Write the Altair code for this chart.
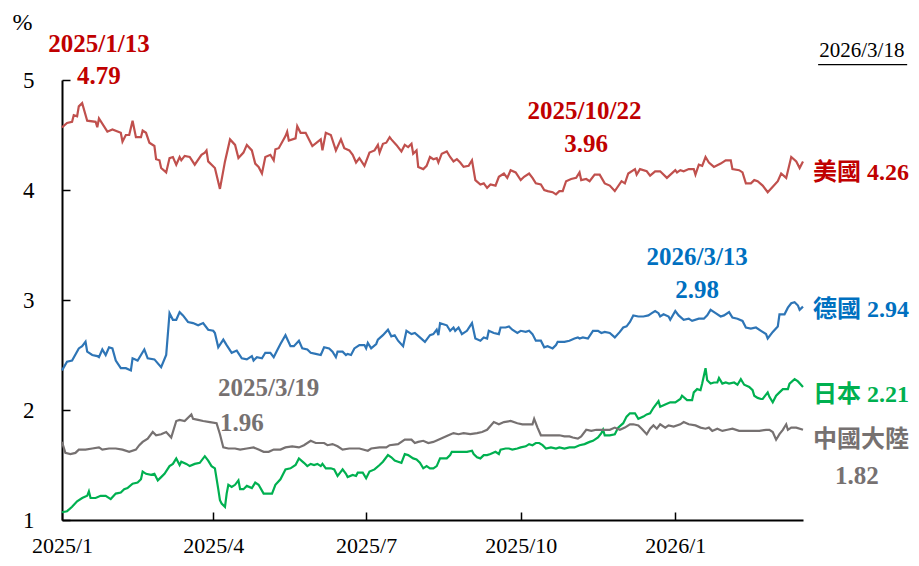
import altair as alt
import pandas as pd

# ---------------- data (10-year government bond yields, %) ----------------
US_POINTS = [
    ("2025-01-01", 4.57), ("2025-01-04", 4.61), ("2025-01-07", 4.62), ("2025-01-08", 4.68),
    ("2025-01-10", 4.67), ("2025-01-11", 4.76), ("2025-01-13", 4.79), ("2025-01-16", 4.63),
    ("2025-01-21", 4.62), ("2025-01-22", 4.57), ("2025-01-23", 4.65), ("2025-01-28", 4.53),
    ("2025-01-31", 4.55), ("2025-02-05", 4.52), ("2025-02-06", 4.44), ("2025-02-08", 4.50),
    ("2025-02-10", 4.50), ("2025-02-12", 4.63), ("2025-02-14", 4.48), ("2025-02-17", 4.48),
    ("2025-02-18", 4.54), ("2025-02-20", 4.52), ("2025-02-22", 4.43), ("2025-02-25", 4.40),
    ("2025-02-26", 4.28), ("2025-02-28", 4.27), ("2025-03-01", 4.20), ("2025-03-04", 4.16),
    ("2025-03-06", 4.29), ("2025-03-08", 4.30), ("2025-03-10", 4.23), ("2025-03-12", 4.30),
    ("2025-03-13", 4.27), ("2025-03-15", 4.31), ("2025-03-18", 4.30), ("2025-03-21", 4.23),
    ("2025-03-25", 4.32), ("2025-03-27", 4.34), ("2025-03-28", 4.36), ("2025-03-29", 4.26),
    ("2025-04-02", 4.20), ("2025-04-05", 4.01), ("2025-04-08", 4.26), ("2025-04-11", 4.46),
    ("2025-04-14", 4.41), ("2025-04-16", 4.29), ("2025-04-19", 4.34), ("2025-04-21", 4.41),
    ("2025-04-24", 4.36), ("2025-04-26", 4.24), ("2025-04-28", 4.21), ("2025-04-30", 4.15),
    ("2025-05-02", 4.30), ("2025-05-05", 4.32), ("2025-05-07", 4.27), ("2025-05-08", 4.37),
    ("2025-05-10", 4.38), ("2025-05-14", 4.49), ("2025-05-15", 4.53), ("2025-05-16", 4.45),
    ("2025-05-20", 4.47), ("2025-05-21", 4.58), ("2025-05-23", 4.52), ("2025-05-26", 4.52),
    ("2025-05-28", 4.46), ("2025-05-30", 4.40), ("2025-06-04", 4.46), ("2025-06-05", 4.36),
    ("2025-06-07", 4.52), ("2025-06-10", 4.50), ("2025-06-13", 4.36), ("2025-06-16", 4.46),
    ("2025-06-18", 4.38), ("2025-06-21", 4.36), ("2025-06-23", 4.32), ("2025-06-25", 4.25),
    ("2025-06-27", 4.29), ("2025-06-30", 4.22), ("2025-07-03", 4.34), ("2025-07-06", 4.36),
    ("2025-07-08", 4.41), ("2025-07-09", 4.34), ("2025-07-11", 4.42), ("2025-07-13", 4.43),
    ("2025-07-15", 4.48), ("2025-07-16", 4.46), ("2025-07-19", 4.41), ("2025-07-22", 4.35),
    ("2025-07-24", 4.41), ("2025-07-26", 4.39), ("2025-07-28", 4.42), ("2025-07-29", 4.33),
    ("2025-07-31", 4.36), ("2025-08-01", 4.21), ("2025-08-04", 4.19), ("2025-08-06", 4.22),
    ("2025-08-08", 4.30), ("2025-08-10", 4.28), ("2025-08-12", 4.29), ("2025-08-13", 4.25),
    ("2025-08-15", 4.33), ("2025-08-18", 4.35), ("2025-08-20", 4.30), ("2025-08-22", 4.26),
    ("2025-08-24", 4.28), ("2025-08-26", 4.25), ("2025-08-28", 4.21), ("2025-08-31", 4.22),
    ("2025-09-02", 4.27), ("2025-09-04", 4.09), ("2025-09-07", 4.05), ("2025-09-09", 4.06),
    ("2025-09-11", 4.02), ("2025-09-13", 4.05), ("2025-09-16", 4.04), ("2025-09-18", 4.12),
    ("2025-09-21", 4.15), ("2025-09-23", 4.11), ("2025-09-25", 4.18), ("2025-09-28", 4.16),
    ("2025-10-01", 4.09), ("2025-10-03", 4.12), ("2025-10-06", 4.15), ("2025-10-08", 4.11),
    ("2025-10-10", 4.06), ("2025-10-13", 4.05), ("2025-10-15", 4.00), ("2025-10-17", 3.99),
    ("2025-10-20", 3.98), ("2025-10-22", 3.96), ("2025-10-24", 3.99), ("2025-10-26", 3.99),
    ("2025-10-28", 4.08), ("2025-10-31", 4.10), ("2025-11-03", 4.11), ("2025-11-05", 4.16),
    ("2025-11-06", 4.09), ("2025-11-09", 4.10), ("2025-11-11", 4.08), ("2025-11-14", 4.14),
    ("2025-11-17", 4.14), ("2025-11-20", 4.06), ("2025-11-23", 4.04), ("2025-11-26", 3.99),
    ("2025-11-30", 4.08), ("2025-12-02", 4.06), ("2025-12-04", 4.15), ("2025-12-08", 4.19),
    ("2025-12-09", 4.14), ("2025-12-11", 4.19), ("2025-12-15", 4.17), ("2025-12-17", 4.13),
    ("2025-12-20", 4.17), ("2025-12-23", 4.17), ("2025-12-27", 4.11), ("2026-01-01", 4.18),
    ("2026-01-02", 4.16), ("2026-01-04", 4.18), ("2026-01-06", 4.17), ("2026-01-09", 4.19),
    ("2026-01-12", 4.19), ("2026-01-13", 4.14), ("2026-01-15", 4.23), ("2026-01-17", 4.22),
    ("2026-01-19", 4.30), ("2026-01-21", 4.25), ("2026-01-24", 4.21), ("2026-01-28", 4.24),
    ("2026-01-31", 4.27), ("2026-02-03", 4.27), ("2026-02-04", 4.19), ("2026-02-08", 4.18),
    ("2026-02-10", 4.16), ("2026-02-12", 4.06), ("2026-02-15", 4.06), ("2026-02-17", 4.09),
    ("2026-02-19", 4.08), ("2026-02-22", 4.04), ("2026-02-25", 3.98), ("2026-02-28", 4.03),
    ("2026-03-03", 4.08), ("2026-03-05", 4.15), ("2026-03-08", 4.11), ("2026-03-11", 4.30),
    ("2026-03-14", 4.26), ("2026-03-16", 4.20), ("2026-03-18", 4.26),
]

DE_POINTS = [
    ("2025-01-01", 2.36), ("2025-01-04", 2.44), ("2025-01-07", 2.45), ("2025-01-11", 2.56),
    ("2025-01-13", 2.58), ("2025-01-15", 2.62), ("2025-01-16", 2.53), ("2025-01-19", 2.50),
    ("2025-01-22", 2.49), ("2025-01-23", 2.48), ("2025-01-25", 2.55), ("2025-01-27", 2.50),
    ("2025-01-29", 2.57), ("2025-01-31", 2.56), ("2025-02-02", 2.45), ("2025-02-05", 2.38),
    ("2025-02-08", 2.38), ("2025-02-11", 2.36), ("2025-02-12", 2.47), ("2025-02-15", 2.45),
    ("2025-02-17", 2.50), ("2025-02-19", 2.55), ("2025-02-21", 2.47), ("2025-02-25", 2.46),
    ("2025-03-01", 2.39), ("2025-03-04", 2.50), ("2025-03-06", 2.88), ("2025-03-08", 2.82),
    ("2025-03-10", 2.82), ("2025-03-12", 2.89), ("2025-03-14", 2.86), ("2025-03-17", 2.80),
    ("2025-03-20", 2.79), ("2025-03-23", 2.77), ("2025-03-26", 2.79), ("2025-03-29", 2.73),
    ("2025-04-01", 2.72), ("2025-04-02", 2.70), ("2025-04-04", 2.57), ("2025-04-07", 2.64),
    ("2025-04-09", 2.59), ("2025-04-12", 2.52), ("2025-04-15", 2.54), ("2025-04-18", 2.47),
    ("2025-04-21", 2.46), ("2025-04-24", 2.49), ("2025-04-25", 2.45), ("2025-04-27", 2.48),
    ("2025-04-30", 2.47), ("2025-05-02", 2.52), ("2025-05-05", 2.52), ("2025-05-07", 2.48),
    ("2025-05-09", 2.54), ("2025-05-11", 2.60), ("2025-05-14", 2.68), ("2025-05-17", 2.58),
    ("2025-05-19", 2.58), ("2025-05-22", 2.63), ("2025-05-24", 2.56), ("2025-05-27", 2.55),
    ("2025-05-29", 2.52), ("2025-06-01", 2.51), ("2025-06-04", 2.50), ("2025-06-06", 2.57),
    ("2025-06-09", 2.56), ("2025-06-11", 2.53), ("2025-06-13", 2.48), ("2025-06-14", 2.53),
    ("2025-06-17", 2.53), ("2025-06-19", 2.50), ("2025-06-20", 2.51), ("2025-06-22", 2.50),
    ("2025-06-24", 2.56), ("2025-06-27", 2.59), ("2025-06-30", 2.59), ("2025-07-01", 2.56),
    ("2025-07-02", 2.61), ("2025-07-04", 2.56), ("2025-07-07", 2.60), ("2025-07-08", 2.64),
    ("2025-07-11", 2.68), ("2025-07-14", 2.73), ("2025-07-16", 2.67), ("2025-07-18", 2.68),
    ("2025-07-20", 2.63), ("2025-07-23", 2.58), ("2025-07-25", 2.72), ("2025-07-28", 2.69),
    ("2025-07-30", 2.70), ("2025-08-02", 2.66), ("2025-08-05", 2.62), ("2025-08-08", 2.68),
    ("2025-08-10", 2.69), ("2025-08-12", 2.73), ("2025-08-13", 2.68), ("2025-08-14", 2.79),
    ("2025-08-18", 2.77), ("2025-08-20", 2.72), ("2025-08-22", 2.75), ("2025-08-23", 2.72),
    ("2025-08-25", 2.75), ("2025-08-27", 2.69), ("2025-08-30", 2.72), ("2025-09-02", 2.79),
    ("2025-09-04", 2.65), ("2025-09-07", 2.63), ("2025-09-09", 2.66), ("2025-09-11", 2.65),
    ("2025-09-12", 2.72), ("2025-09-15", 2.70), ("2025-09-18", 2.69), ("2025-09-19", 2.75),
    ("2025-09-22", 2.75), ("2025-09-24", 2.76), ("2025-09-26", 2.73), ("2025-09-29", 2.70),
    ("2025-10-01", 2.72), ("2025-10-04", 2.71), ("2025-10-06", 2.72), ("2025-10-08", 2.69),
    ("2025-10-10", 2.63), ("2025-10-13", 2.63), ("2025-10-15", 2.57), ("2025-10-17", 2.58),
    ("2025-10-20", 2.56), ("2025-10-22", 2.59), ("2025-10-23", 2.62), ("2025-10-27", 2.62),
    ("2025-10-30", 2.63), ("2025-11-02", 2.65), ("2025-11-04", 2.66), ("2025-11-05", 2.65),
    ("2025-11-07", 2.66), ("2025-11-10", 2.65), ("2025-11-13", 2.72), ("2025-11-16", 2.72),
    ("2025-11-18", 2.70), ("2025-11-20", 2.71), ("2025-11-23", 2.70), ("2025-11-26", 2.66),
    ("2025-11-29", 2.71), ("2025-12-01", 2.75), ("2025-12-03", 2.76), ("2025-12-05", 2.80),
    ("2025-12-07", 2.86), ("2025-12-10", 2.85), ("2025-12-13", 2.85), ("2025-12-16", 2.86),
    ("2025-12-18", 2.88), ("2025-12-20", 2.90), ("2025-12-22", 2.88), ("2025-12-23", 2.85),
    ("2025-12-25", 2.87), ("2025-12-28", 2.85), ("2025-12-29", 2.82), ("2026-01-01", 2.90),
    ("2026-01-03", 2.86), ("2026-01-06", 2.82), ("2026-01-09", 2.83), ("2026-01-11", 2.81),
    ("2026-01-15", 2.83), ("2026-01-18", 2.83), ("2026-01-20", 2.86), ("2026-01-22", 2.91),
    ("2026-01-25", 2.88), ("2026-01-28", 2.85), ("2026-01-30", 2.86), ("2026-02-02", 2.89),
    ("2026-02-04", 2.84), ("2026-02-07", 2.83), ("2026-02-10", 2.81), ("2026-02-12", 2.75),
    ("2026-02-15", 2.74), ("2026-02-18", 2.75), ("2026-02-21", 2.72), ("2026-02-24", 2.69),
    ("2026-02-25", 2.65), ("2026-02-28", 2.71), ("2026-03-03", 2.76), ("2026-03-04", 2.87),
    ("2026-03-07", 2.87), ("2026-03-09", 2.93), ("2026-03-11", 2.97), ("2026-03-13", 2.98),
    ("2026-03-15", 2.95), ("2026-03-16", 2.91), ("2026-03-18", 2.94),
]

JP_POINTS = [
    ("2025-01-01", 1.07), ("2025-01-04", 1.08), ("2025-01-07", 1.12), ("2025-01-10", 1.17),
    ("2025-01-13", 1.20), ("2025-01-16", 1.22), ("2025-01-17", 1.26), ("2025-01-18", 1.20),
    ("2025-01-21", 1.20), ("2025-01-24", 1.22), ("2025-01-27", 1.22), ("2025-01-30", 1.19),
    ("2025-02-02", 1.24), ("2025-02-05", 1.25), ("2025-02-07", 1.28), ("2025-02-09", 1.29),
    ("2025-02-12", 1.33), ("2025-02-15", 1.34), ("2025-02-17", 1.37), ("2025-02-18", 1.44),
    ("2025-02-20", 1.42), ("2025-02-23", 1.41), ("2025-02-25", 1.42), ("2025-02-27", 1.36),
    ("2025-03-01", 1.39), ("2025-03-03", 1.42), ("2025-03-06", 1.49), ("2025-03-08", 1.51),
    ("2025-03-10", 1.56), ("2025-03-12", 1.50), ("2025-03-13", 1.53), ("2025-03-16", 1.51),
    ("2025-03-18", 1.49), ("2025-03-21", 1.51), ("2025-03-24", 1.52), ("2025-03-27", 1.58),
    ("2025-03-29", 1.54), ("2025-03-31", 1.49), ("2025-04-02", 1.47), ("2025-04-04", 1.28),
    ("2025-04-05", 1.18), ("2025-04-06", 1.15), ("2025-04-08", 1.12), ("2025-04-09", 1.24),
    ("2025-04-10", 1.32), ("2025-04-12", 1.30), ("2025-04-14", 1.32), ("2025-04-16", 1.36),
    ("2025-04-17", 1.28), ("2025-04-19", 1.28), ("2025-04-21", 1.31), ("2025-04-24", 1.29),
    ("2025-04-26", 1.34), ("2025-04-28", 1.32), ("2025-05-01", 1.24), ("2025-05-06", 1.24),
    ("2025-05-08", 1.32), ("2025-05-11", 1.37), ("2025-05-14", 1.46), ("2025-05-17", 1.47),
    ("2025-05-20", 1.50), ("2025-05-22", 1.56), ("2025-05-25", 1.52), ("2025-05-27", 1.49),
    ("2025-05-29", 1.51), ("2025-05-31", 1.50), ("2025-06-02", 1.51), ("2025-06-04", 1.49),
    ("2025-06-05", 1.51), ("2025-06-07", 1.47), ("2025-06-10", 1.47), ("2025-06-12", 1.46),
    ("2025-06-14", 1.40), ("2025-06-16", 1.44), ("2025-06-17", 1.46), ("2025-06-19", 1.42),
    ("2025-06-20", 1.39), ("2025-06-23", 1.41), ("2025-06-25", 1.40), ("2025-06-26", 1.43),
    ("2025-06-29", 1.43), ("2025-07-01", 1.38), ("2025-07-03", 1.44), ("2025-07-06", 1.46),
    ("2025-07-09", 1.50), ("2025-07-11", 1.53), ("2025-07-14", 1.59), ("2025-07-16", 1.57),
    ("2025-07-18", 1.54), ("2025-07-20", 1.53), ("2025-07-22", 1.52), ("2025-07-24", 1.60),
    ("2025-07-26", 1.59), ("2025-07-29", 1.56), ("2025-07-31", 1.55), ("2025-08-02", 1.52),
    ("2025-08-04", 1.47), ("2025-08-06", 1.49), ("2025-08-08", 1.47), ("2025-08-10", 1.47),
    ("2025-08-12", 1.49), ("2025-08-14", 1.56), ("2025-08-18", 1.56), ("2025-08-20", 1.59),
    ("2025-08-21", 1.62), ("2025-08-26", 1.62), ("2025-08-30", 1.62), ("2025-09-02", 1.63),
    ("2025-09-03", 1.60), ("2025-09-05", 1.57), ("2025-09-07", 1.56), ("2025-09-09", 1.59),
    ("2025-09-11", 1.59), ("2025-09-13", 1.60), ("2025-09-16", 1.62), ("2025-09-18", 1.60),
    ("2025-09-19", 1.64), ("2025-09-22", 1.65), ("2025-09-24", 1.65), ("2025-09-26", 1.64),
    ("2025-09-29", 1.65), ("2025-10-01", 1.66), ("2025-10-04", 1.67), ("2025-10-06", 1.69),
    ("2025-10-08", 1.68), ("2025-10-10", 1.70), ("2025-10-12", 1.70), ("2025-10-14", 1.68),
    ("2025-10-16", 1.65), ("2025-10-19", 1.66), ("2025-10-22", 1.65), ("2025-10-24", 1.66),
    ("2025-10-27", 1.65), ("2025-10-30", 1.66), ("2025-11-02", 1.66), ("2025-11-05", 1.68),
    ("2025-11-08", 1.69), ("2025-11-11", 1.71), ("2025-11-13", 1.72), ("2025-11-16", 1.75),
    ("2025-11-18", 1.79), ("2025-11-19", 1.82), ("2025-11-20", 1.77), ("2025-11-23", 1.77),
    ("2025-11-26", 1.78), ("2025-11-28", 1.84), ("2025-12-01", 1.88), ("2025-12-03", 1.94),
    ("2025-12-05", 1.97), ("2025-12-08", 1.97), ("2025-12-10", 1.92), ("2025-12-13", 1.94),
    ("2025-12-15", 1.96), ("2025-12-17", 1.97), ("2025-12-19", 2.02), ("2025-12-21", 2.06),
    ("2025-12-22", 2.08), ("2025-12-23", 2.03), ("2025-12-26", 2.05), ("2025-12-29", 2.07),
    ("2026-01-01", 2.07), ("2026-01-04", 2.10), ("2026-01-05", 2.13), ("2026-01-08", 2.09),
    ("2026-01-11", 2.09), ("2026-01-12", 2.16), ("2026-01-14", 2.19), ("2026-01-16", 2.18),
    ("2026-01-17", 2.24), ("2026-01-19", 2.38), ("2026-01-20", 2.27), ("2026-01-22", 2.24),
    ("2026-01-24", 2.25), ("2026-01-26", 2.25), ("2026-01-27", 2.29), ("2026-01-29", 2.24),
    ("2026-01-31", 2.25), ("2026-02-02", 2.24), ("2026-02-05", 2.25), ("2026-02-07", 2.23),
    ("2026-02-09", 2.28), ("2026-02-11", 2.23), ("2026-02-14", 2.21), ("2026-02-16", 2.18),
    ("2026-02-17", 2.13), ("2026-02-19", 2.11), ("2026-02-21", 2.10), ("2026-02-22", 2.10),
    ("2026-02-25", 2.16), ("2026-02-26", 2.12), ("2026-02-28", 2.07), ("2026-03-02", 2.13),
    ("2026-03-04", 2.16), ("2026-03-06", 2.19), ("2026-03-09", 2.19), ("2026-03-10", 2.24),
    ("2026-03-13", 2.28), ("2026-03-15", 2.26), ("2026-03-18", 2.21),
]

CN_POINTS = [
    ("2025-01-01", 1.71), ("2025-01-03", 1.61), ("2025-01-06", 1.60), ("2025-01-09", 1.61),
    ("2025-01-11", 1.64), ("2025-01-15", 1.64), ("2025-01-19", 1.65), ("2025-01-23", 1.66),
    ("2025-01-25", 1.64), ("2025-01-29", 1.65), ("2025-02-02", 1.65), ("2025-02-06", 1.64),
    ("2025-02-10", 1.62), ("2025-02-14", 1.64), ("2025-02-16", 1.68), ("2025-02-18", 1.71),
    ("2025-02-21", 1.74), ("2025-02-24", 1.80), ("2025-02-26", 1.77), ("2025-03-01", 1.78),
    ("2025-03-04", 1.80), ("2025-03-07", 1.75), ("2025-03-10", 1.90), ("2025-03-12", 1.91),
    ("2025-03-15", 1.90), ("2025-03-19", 1.96), ("2025-03-20", 1.92), ("2025-03-23", 1.91),
    ("2025-03-26", 1.90), ("2025-03-30", 1.89), ("2025-04-03", 1.88), ("2025-04-05", 1.78),
    ("2025-04-07", 1.66), ("2025-04-10", 1.65), ("2025-04-14", 1.65), ("2025-04-17", 1.64),
    ("2025-04-21", 1.65), ("2025-04-25", 1.66), ("2025-04-28", 1.64), ("2025-05-01", 1.62),
    ("2025-05-04", 1.62), ("2025-05-07", 1.64), ("2025-05-11", 1.64), ("2025-05-14", 1.66),
    ("2025-05-18", 1.67), ("2025-05-22", 1.66), ("2025-05-25", 1.68), ("2025-05-29", 1.72),
    ("2025-06-01", 1.70), ("2025-06-06", 1.70), ("2025-06-08", 1.68), ("2025-06-11", 1.69),
    ("2025-06-14", 1.67), ("2025-06-17", 1.64), ("2025-06-21", 1.65), ("2025-06-27", 1.65),
    ("2025-07-02", 1.63), ("2025-07-04", 1.65), ("2025-07-09", 1.66), ("2025-07-13", 1.66),
    ("2025-07-15", 1.68), ("2025-07-20", 1.69), ("2025-07-24", 1.73), ("2025-07-28", 1.73),
    ("2025-07-30", 1.70), ("2025-08-01", 1.71), ("2025-08-04", 1.72), ("2025-08-07", 1.70),
    ("2025-08-10", 1.71), ("2025-08-13", 1.73), ("2025-08-16", 1.75), ("2025-08-19", 1.77),
    ("2025-08-22", 1.79), ("2025-08-25", 1.78), ("2025-08-28", 1.79), ("2025-09-01", 1.78),
    ("2025-09-05", 1.79), ("2025-09-08", 1.80), ("2025-09-11", 1.82), ("2025-09-15", 1.89),
    ("2025-09-18", 1.87), ("2025-09-21", 1.89), ("2025-09-25", 1.90), ("2025-09-29", 1.88),
    ("2025-10-02", 1.87), ("2025-10-08", 1.87), ("2025-10-09", 1.92), ("2025-10-11", 1.84),
    ("2025-10-13", 1.77), ("2025-10-18", 1.77), ("2025-10-20", 1.77), ("2025-10-24", 1.77),
    ("2025-10-27", 1.76), ("2025-10-30", 1.76), ("2025-11-01", 1.75), ("2025-11-04", 1.74),
    ("2025-11-06", 1.76), ("2025-11-09", 1.82), ("2025-11-12", 1.81), ("2025-11-15", 1.82),
    ("2025-11-19", 1.82), ("2025-11-23", 1.82), ("2025-11-26", 1.84), ("2025-11-29", 1.82),
    ("2025-12-02", 1.84), ("2025-12-05", 1.87), ("2025-12-07", 1.87), ("2025-12-10", 1.86),
    ("2025-12-12", 1.83), ("2025-12-15", 1.78), ("2025-12-17", 1.83), ("2025-12-19", 1.86),
    ("2025-12-21", 1.83), ("2025-12-23", 1.87), ("2025-12-26", 1.84), ("2025-12-28", 1.86),
    ("2025-12-31", 1.85), ("2026-01-04", 1.87), ("2026-01-06", 1.89), ("2026-01-09", 1.87),
    ("2026-01-13", 1.86), ("2026-01-16", 1.84), ("2026-01-19", 1.83), ("2026-01-21", 1.84),
    ("2026-01-23", 1.81), ("2026-01-26", 1.83), ("2026-01-29", 1.81), ("2026-02-01", 1.82),
    ("2026-02-04", 1.83), ("2026-02-08", 1.81), ("2026-02-12", 1.81), ("2026-02-16", 1.81),
    ("2026-02-20", 1.81), ("2026-02-24", 1.82), ("2026-02-26", 1.82), ("2026-02-28", 1.80),
    ("2026-03-02", 1.73), ("2026-03-04", 1.78), ("2026-03-06", 1.82), ("2026-03-08", 1.87),
    ("2026-03-09", 1.82), ("2026-03-11", 1.84), ("2026-03-14", 1.84), ("2026-03-18", 1.82),
]

SERIES = ["美國", "德國", "日本", "中國大陸"]
LINE_COLORS = ["#C0504D", "#2E75B6", "#00B050", "#767171"]
TEXT_COLORS = ["#C00000", "#0070C0", "#00B050", "#767171"]

X_TICKS = ["2025-01-01", "2025-04-01", "2025-07-01", "2025-10-01", "2026-01-01"]
Y_TICKS = [1, 2, 3, 4, 5]
X_DOMAIN = ["2025-01-01", "2026-03-18"]
Y_DOMAIN = [1, 5]

# annotations (label anchor date, value, text, series index)
ANN_TEXT = ["2025/1/13", "4.79", "2025/10/22", "3.96", "2026/3/13", "2.98", "2025/3/19", "1.96"]
ANN_DATE = ["2025-01-23", "2025-01-23", "2025-11-08", "2025-11-09",
            "2026-01-14", "2026-01-14", "2025-05-04", "2025-04-18"]
ANN_VALUE = [5.33, 5.04, 4.72, 4.42, 3.39, 3.09, 2.20, 1.88]
ANN_SERIES = [0, 0, 0, 0, 1, 1, 3, 3]

END_TEXT = ["美國 4.26", "德國 2.94", "日本 2.21", "中國大陸"]
END_DATE = ["2026-03-24", "2026-03-24", "2026-03-24", "2026-03-24"]
END_VALUE = [4.155, 2.91, 2.136, 1.727]
END_SERIES = [0, 1, 2, 3]
CN_LAST_TEXT = "1.82"
CN_LAST_DATE = "2026-04-19"
CN_LAST_VALUE = 1.40

AS_OF_TEXT = "2026/3/18"
AS_OF_DATE = "2026-04-22"
AS_OF_VALUE = 5.265
UNDERLINE = ("2026-03-27", "2026-05-19", 5.14)

# ---------------- build tables ----------------
frames = []
for name, pts in zip(SERIES, [US_POINTS, DE_POINTS, JP_POINTS, CN_POINTS]):
    frames.append(pd.DataFrame(pts, columns=["date", "value"]).assign(series=name))
lines_df = pd.concat(frames, ignore_index=True)

ann_df = pd.DataFrame({
    "date": ANN_DATE, "value": ANN_VALUE, "text": ANN_TEXT,
    "color": [TEXT_COLORS[i] for i in ANN_SERIES],
})
end_df = pd.DataFrame({
    "date": END_DATE, "value": END_VALUE, "text": END_TEXT,
    "color": [TEXT_COLORS[i] for i in END_SERIES],
})
cn_last_df = pd.DataFrame({"date": [CN_LAST_DATE], "value": [CN_LAST_VALUE],
                           "text": [CN_LAST_TEXT], "color": [TEXT_COLORS[3]]})
asof_df = pd.DataFrame({"date": [AS_OF_DATE], "value": [AS_OF_VALUE], "text": [AS_OF_TEXT]})
ul_df = pd.DataFrame({"d1": [UNDERLINE[0]], "d2": [UNDERLINE[1]], "value": [UNDERLINE[2]]})

SERIF = "Liberation Serif, Times New Roman, serif"
MIXED = "Liberation Serif, Noto Sans CJK TC, serif"

x_scale = alt.Scale(domain=X_DOMAIN)
y_scale = alt.Scale(domain=Y_DOMAIN, nice=False, zero=False)

x_axis = alt.Axis(
    values=X_TICKS, format="%Y/%-m", title=None, grid=False,
    domainColor="black", domainWidth=2, tickColor="black", tickWidth=1.5,
    tickSize=alt.ExprRef(expr="-8"), labelPadding=23, labelBaseline="top",
    labelFont=SERIF, labelFontSize=22, labelColor="black", labelFlush=False,
)
y_axis = alt.Axis(
    values=Y_TICKS, format="d", title="%", grid=False,
    titleAngle=0, titleX=-50, titleY=-58, titleAlign="left", titleBaseline="middle",
    titleFont=SERIF, titleFontSize=24, titleFontWeight="normal", titleColor="black",
    domainColor="black", domainWidth=2, tickColor="black", tickWidth=1.5,
    tickSize=alt.ExprRef(expr="-8"), labelPadding=36,
    labelFont=SERIF, labelFontSize=23, labelColor="black",
)

lines = alt.Chart(lines_df).mark_line(strokeWidth=2.2).encode(
    x=alt.X("date:T", scale=x_scale, axis=x_axis),
    y=alt.Y("value:Q", scale=y_scale, axis=y_axis),
    color=alt.Color("series:N", scale=alt.Scale(domain=SERIES, range=LINE_COLORS), legend=None),
)

ann = alt.Chart(ann_df).mark_text(
    font=SERIF, fontSize=25, fontWeight="bold", align="center", baseline="middle"
).encode(
    x="date:T", y="value:Q", text="text:N", color=alt.Color("color:N", scale=None)
)

ends = alt.Chart(end_df).mark_text(
    font=MIXED, fontSize=24, fontWeight="bold", align="left", baseline="middle"
).encode(
    x="date:T", y="value:Q", text="text:N", color=alt.Color("color:N", scale=None)
)

cn_last = alt.Chart(cn_last_df).mark_text(
    font=SERIF, fontSize=25, fontWeight="bold", align="center", baseline="middle"
).encode(
    x="date:T", y="value:Q", text="text:N", color=alt.Color("color:N", scale=None)
)

asof = alt.Chart(asof_df).mark_text(
    font=SERIF, fontSize=21, align="center", baseline="middle", color="black"
).encode(x="date:T", y="value:Q", text="text:N")

underline = alt.Chart(ul_df).mark_rule(color="black", strokeWidth=1.2).encode(
    x="d1:T", x2="d2:T", y="value:Q"
)

chart = alt.layer(lines, ann, ends, cn_last, asof, underline).properties(
    width=741, height=440,
    autosize=alt.AutoSizeParams(type="none"),
    padding={"left": 54, "top": 72, "right": 108, "bottom": 38},
    background="white",
).configure_view(stroke=None)

chart.save("out.html", embed_options={"renderer": "svg", "actions": False})
